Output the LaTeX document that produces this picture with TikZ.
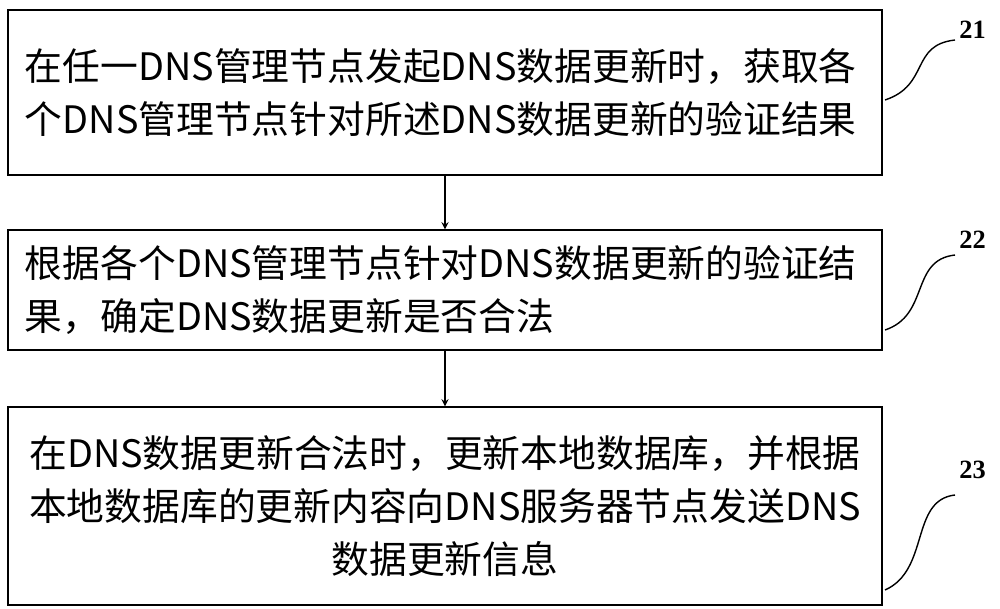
\documentclass[tikz,border=0pt]{standalone}
\usepackage{fontspec}
\setmainfont{Liberation Serif}
\newfontfamily\cjk{Noto Sans CJK SC}
\usetikzlibrary{positioning}
\tikzset{
  stepbox/.style={draw,thick,minimum width=17.48cm,text width=16.8cm,font=\cjk\fontsize{21.5}{30}\selectfont,inner xsep=0.3cm},
  tag/.style={font=\bfseries\fontsize{15}{18}\selectfont},
  flow/.style={->,>=stealth,thick}
}
\begin{document}
\begin{tikzpicture}
  \useasboundingbox (0,0) rectangle (20,-12.18);
  \node[stepbox,minimum height=3.3cm,align=left] (s21) at (8.9,-1.85)
    {在任一DNS管理节点发起DNS数据更新时，获取各\\个DNS管理节点针对所述DNS数据更新的验证结果};
  \node[stepbox,minimum height=2.4cm,align=left] (s22) at (8.9,-5.8)
    {根据各个DNS管理节点针对DNS数据更新的验证结\\果，确定DNS数据更新是否合法};
  \node[stepbox,minimum height=3.96cm,align=center] (s23) at (8.9,-10.12)
    {在DNS数据更新合法时，更新本地数据库，并根据\\本地数据库的更新内容向DNS服务器节点发送DNS\\数据更新信息};
  \draw[flow] (s21) -- (s22);
  \draw[flow] (s22) -- (s23);
  % labels
  \node[tag] (t21) at (19.45,-0.6) {21};
  \node[tag] (t22) at (19.45,-4.8) {22};
  \node[tag] (t23) at (19.45,-9.4) {23};
  \coordinate (c21) at (17.7,-2.0);
  \coordinate (c22) at (17.7,-6.6);
  \coordinate (c23) at (17.7,-11.8);
  \draw[thick] (c21) .. controls (18.6,-1.7) and (18.2,-0.9) .. (19.1,-0.8);
  \draw[thick] (c22) .. controls (18.6,-6.3) and (18.2,-5.2) .. (19.1,-5.1);
  \draw[thick] (c23) .. controls (18.6,-11.4) and (18.2,-10.0) .. (19.1,-9.9);
\end{tikzpicture}
\end{document}
